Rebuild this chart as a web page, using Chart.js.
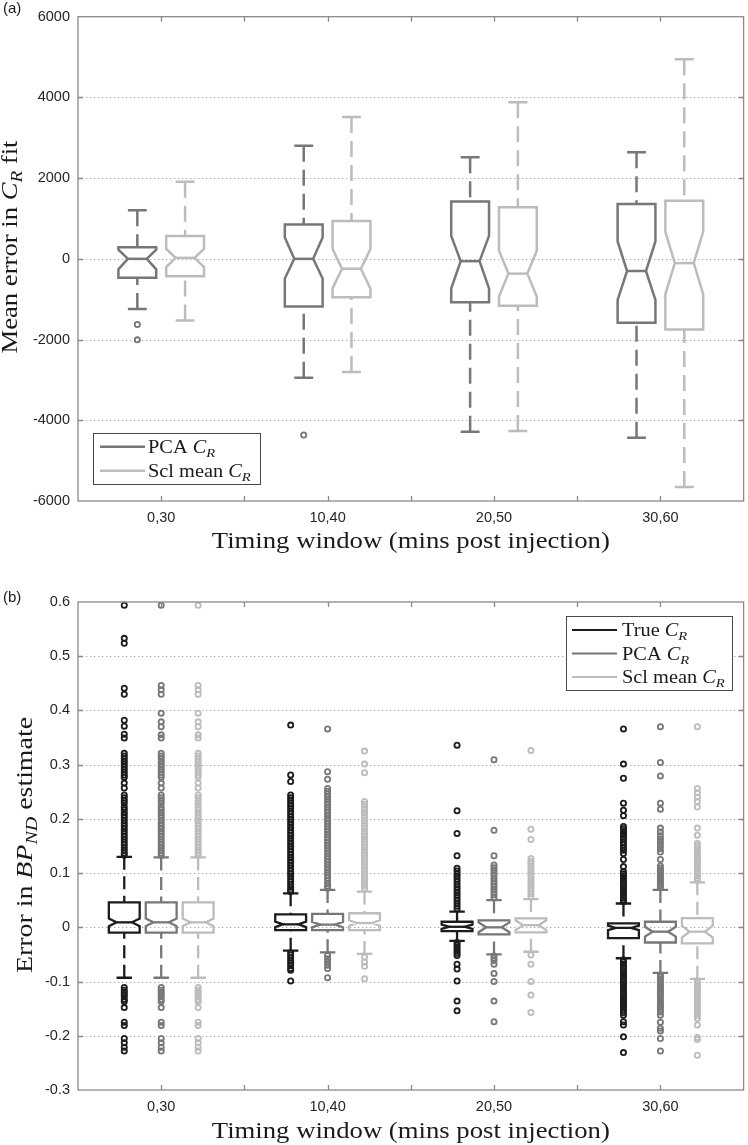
<!DOCTYPE html>
<html><head><meta charset="utf-8">
<script src="https://cdn.jsdelivr.net/npm/chart.js@4/dist/chart.umd.min.js"></script>
<style>
html,body{margin:0;padding:0;background:#fff;width:748px;height:1145px;overflow:hidden}
#ca{position:absolute;left:0;top:0}
#cb{position:absolute;left:0;top:572px}
</style></head>
<body>
<canvas id="ca" width="748" height="572"></canvas>
<canvas id="cb" width="748" height="573"></canvas>
<script>
// ---------- data ----------
const categories = ['0,30', '10,40', '20,50', '30,60'];
const xTickPos = [1, 1.5, 2, 2.5, 3, 3.5, 4];
const yTicksA = [-6000, -4000, -2000, 0, 2000, 4000, 6000];
const yTicksB = [-0.3, -0.2, -0.1, 0, 0.1, 0.2, 0.3, 0.4, 0.5, 0.6];

// Panel (a): PCA C_R
const aPcaLow     = [-1244, -2944, -4285, -4431];
const aPcaQ1      = [-471, -1179, -1073, -1585];
const aPcaNotchLo = [-260, -488, -732, -1017];
const aPcaMed     = [0, 0, -57, -301];
const aPcaNotchHi = [227, 528, 569, 431];
const aPcaQ3      = [285, 854, 1422, 1358];
const aPcaHigh    = [1202, 2805, 2520, 2642];
const aPcaOut     = [[-1627, -2007], [-4366], [], []];
// Panel (a): Scl mean C_R
const aSclLow     = [-1530, -2805, -4268, -5651];
const aSclQ1      = [-432, -951, -1163, -1748];
const aSclNotchLo = [-203, -732, -935, -877];
const aSclMed     = [24, -244, -366, -105];
const aSclNotchHi = [244, 244, 203, 667];
const aSclQ3      = [568, 935, 1276, 1439];
const aSclHigh    = [1910, 3512, 3878, 4944];
const aSclOut     = [[], [], [], []];

// Panel (b): True C_R
const bTrueLow     = [-0.093, -0.043, -0.025, -0.057];
const bTrueQ1      = [-0.0099, -0.005, -0.007, -0.020];
const bTrueNotchLo = [0.002, 0.0005, -0.003, -0.005];
const bTrueMed     = [0.0092, 0.0055, 0.001, -0.001];
const bTrueNotchHi = [0.0164, 0.0105, 0.005, 0.003];
const bTrueQ3      = [0.0461, 0.024, 0.0103, 0.0074];
const bTrueHigh    = [0.130, 0.0627, 0.029, 0.044];
const bTrueOut = [
  [0.594, 0.533, 0.524, 0.441, 0.430, 0.382, 0.371, 0.356, 0.349, 0.321, 0.316, 0.311, 0.306, 0.301, 0.296, 0.291, 0.286, 0.281, 0.277, 0.266, 0.257, 0.244, 0.239, 0.234, 0.229, 0.222, 0.217, 0.212, 0.207, 0.202, 0.197, 0.192, 0.187, 0.182, 0.177, 0.172, 0.167, 0.162, 0.157, 0.152, 0.147, 0.142, 0.137, 0.133,
   -0.111, -0.116, -0.120, -0.124, -0.128, -0.133, -0.137, -0.148, -0.175, -0.181, -0.205, -0.213, -0.221, -0.228],
  [0.373, 0.281, 0.269, 0.244, 0.239, 0.234, 0.229, 0.224, 0.219, 0.214, 0.209, 0.204, 0.199, 0.194, 0.189, 0.184, 0.179, 0.174, 0.169, 0.164, 0.159, 0.154, 0.149, 0.144, 0.139, 0.134, 0.129, 0.124, 0.119, 0.114, 0.109, 0.104, 0.099, 0.094, 0.089, 0.084, 0.079, 0.074, 0.069, 0.066,
   -0.047, -0.051, -0.056, -0.061, -0.066, -0.071, -0.076, -0.079, -0.099],
  [0.336, 0.215, 0.173, 0.132, 0.109, 0.104, 0.099, 0.094, 0.089, 0.084, 0.079, 0.074, 0.069, 0.064, 0.059, 0.054, 0.049, 0.044, 0.039, 0.034,
   -0.028, -0.032, -0.036, -0.040, -0.044, -0.048, -0.052, -0.068, -0.077, -0.099, -0.136, -0.154],
  [0.366, 0.301, 0.275, 0.229, 0.216, 0.206, 0.186, 0.182, 0.178, 0.174, 0.170, 0.166, 0.162, 0.157, 0.152, 0.147, 0.142, 0.136, 0.125, 0.112, 0.103, 0.099, 0.095, 0.091, 0.087, 0.083, 0.079, 0.075, 0.071, 0.067, 0.063, 0.059, 0.055, 0.051, 0.047,
   -0.060, -0.064, -0.068, -0.072, -0.076, -0.080, -0.084, -0.088, -0.092, -0.096, -0.100, -0.104, -0.108, -0.112, -0.116, -0.120, -0.124, -0.128, -0.132, -0.136, -0.140, -0.144, -0.148, -0.152, -0.157, -0.162, -0.174, -0.180, -0.202, -0.231]
];
// Panel (b): PCA C_R
const bPcaLow     = [-0.093, -0.046, -0.050, -0.084];
const bPcaQ1      = [-0.0099, -0.005, -0.013, -0.028];
const bPcaNotchLo = [0.002, 0.0, -0.009, -0.017];
const bPcaMed     = [0.0092, 0.005, 0.0, -0.008];
const bPcaNotchHi = [0.0164, 0.010, 0.009, 0.001];
const bPcaQ3      = [0.0461, 0.025, 0.013, 0.0103];
const bPcaHigh    = [0.129, 0.069, 0.050, 0.069];
const bPcaOut = [
  [0.594, 0.446, 0.438, 0.430, 0.395, 0.379, 0.370, 0.355, 0.349, 0.321, 0.316, 0.311, 0.306, 0.301, 0.296, 0.291, 0.286, 0.281, 0.277, 0.266, 0.257, 0.244, 0.239, 0.234, 0.229, 0.222, 0.217, 0.212, 0.207, 0.202, 0.197, 0.192, 0.187, 0.182, 0.177, 0.172, 0.167, 0.162, 0.157, 0.152, 0.147, 0.142, 0.137, 0.133,
   -0.111, -0.116, -0.120, -0.124, -0.128, -0.133, -0.137, -0.148, -0.175, -0.181, -0.205, -0.213, -0.221, -0.228],
  [0.366, 0.287, 0.273, 0.256, 0.251, 0.246, 0.241, 0.236, 0.231, 0.226, 0.221, 0.216, 0.211, 0.206, 0.201, 0.196, 0.191, 0.186, 0.181, 0.176, 0.171, 0.166, 0.161, 0.156, 0.151, 0.146, 0.141, 0.136, 0.131, 0.126, 0.121, 0.116, 0.111, 0.106, 0.101, 0.096, 0.091, 0.086, 0.081, 0.076, 0.072,
   -0.052, -0.058, -0.064, -0.070, -0.076, -0.093],
  [0.309, 0.179, 0.132, 0.115, 0.110, 0.105, 0.100, 0.095, 0.090, 0.085, 0.080, 0.075, 0.070, 0.065, 0.060, 0.055,
   -0.053, -0.057, -0.061, -0.068, -0.085, -0.100, -0.136, -0.174],
  [0.370, 0.304, 0.279, 0.229, 0.218, 0.183, 0.176, 0.169, 0.163, 0.157, 0.151, 0.145, 0.139, 0.125, 0.113, 0.109, 0.105, 0.101, 0.097, 0.093, 0.089, 0.085, 0.081, 0.077, 0.073,
   -0.088, -0.092, -0.096, -0.100, -0.104, -0.108, -0.112, -0.116, -0.120, -0.124, -0.128, -0.132, -0.136, -0.140, -0.144, -0.148, -0.152, -0.156, -0.162, -0.175, -0.186, -0.191, -0.205, -0.228]
];
// Panel (b): Scl mean C_R
const bSclLow     = [-0.093, -0.049, -0.045, -0.095];
const bSclQ1      = [-0.0099, -0.005, -0.0093, -0.0295];
const bSclNotchLo = [0.002, 0.003, -0.005, -0.019];
const bSclMed     = [0.0092, 0.008, 0.004, -0.008];
const bSclNotchHi = [0.0164, 0.013, 0.013, 0.003];
const bSclQ3      = [0.0461, 0.026, 0.0166, 0.017];
const bSclHigh    = [0.129, 0.066, 0.052, 0.083];
const bSclOut = [
  [0.594, 0.446, 0.438, 0.430, 0.395, 0.379, 0.370, 0.355, 0.349, 0.321, 0.316, 0.311, 0.306, 0.301, 0.296, 0.291, 0.286, 0.281, 0.277, 0.266, 0.257, 0.244, 0.239, 0.234, 0.229, 0.222, 0.217, 0.212, 0.207, 0.202, 0.197, 0.192, 0.187, 0.182, 0.177, 0.172, 0.167, 0.162, 0.157, 0.152, 0.147, 0.142, 0.137, 0.133,
   -0.111, -0.116, -0.120, -0.124, -0.128, -0.133, -0.137, -0.148, -0.175, -0.181, -0.205, -0.213, -0.221, -0.228],
  [0.325, 0.301, 0.285, 0.232, 0.227, 0.222, 0.217, 0.212, 0.207, 0.202, 0.197, 0.192, 0.187, 0.182, 0.177, 0.172, 0.167, 0.162, 0.157, 0.152, 0.147, 0.142, 0.137, 0.132, 0.127, 0.122, 0.117, 0.112, 0.107, 0.102, 0.097, 0.092, 0.087, 0.082, 0.077, 0.072,
   -0.055, -0.064, -0.072, -0.095],
  [0.326, 0.181, 0.162, 0.127, 0.122, 0.117, 0.112, 0.107, 0.102, 0.097, 0.092, 0.087, 0.082, 0.077, 0.072, 0.067, 0.062, 0.057,
   -0.051, -0.068, -0.100, -0.125, -0.157],
  [0.370, 0.256, 0.248, 0.240, 0.232, 0.222, 0.183, 0.170, 0.155, 0.151, 0.147, 0.143, 0.139, 0.135, 0.131, 0.127, 0.123, 0.119, 0.115, 0.111, 0.107, 0.103, 0.099, 0.095, 0.091, 0.087,
   -0.099, -0.103, -0.107, -0.111, -0.115, -0.119, -0.123, -0.127, -0.131, -0.135, -0.139, -0.143, -0.147, -0.151, -0.155, -0.159, -0.163, -0.168, -0.180, -0.203, -0.207, -0.236]
];

// ---------- styling ----------
const C_TRUE = '#1c1c1c', C_PCA = '#777777', C_SCL = '#bcbcbc';
const SANS = '"Liberation Sans", Arial, Helvetica, sans-serif';
const SERIF = '"Liberation Serif", "Times New Roman", serif';
const TXT = '#1a1a1a';

function series(color, offset, low, q1, nlo, med, nhi, q3, high, out) {
  return {color, offset, low, q1, nlo, med, nhi, q3, high, out};
}

function fontFor(p, size) {
  return (p.it ? 'italic ' : '') + (p.sub ? size * 0.72 : size).toFixed(2) + 'px ' + SERIF;
}
function richWidth(ctx, parts, size) {
  let w = 0;
  for (const p of parts) { ctx.font = fontFor(p, size); w += ctx.measureText(p.t).width; }
  return w;
}
function drawRich(ctx, parts, x, y, size, align, sx, target) {
  const nat = richWidth(ctx, parts, size);
  if (target) sx = target / nat;
  const w = nat * sx;
  const x0 = align === 'center' ? x - w / 2 : x;
  ctx.save();
  ctx.translate(x0, y);
  ctx.scale(sx, 1);
  ctx.fillStyle = TXT;
  ctx.textAlign = 'left';
  ctx.textBaseline = 'alphabetic';
  let px = 0;
  for (const p of parts) {
    ctx.font = fontFor(p, size);
    ctx.fillText(p.t, px, p.sub ? size * 0.22 : 0);
    px += ctx.measureText(p.t).width;
  }
  ctx.restore();
}

function makePlugin(cfg) {
  return {
    id: 'boxplotDraw',
    beforeDatasetsDraw(chart) {
      const ctx = chart.ctx, a = chart.chartArea, x = chart.scales.x, y = chart.scales.y;
      ctx.save();
      ctx.strokeStyle = '#a8a8a8';
      ctx.lineWidth = 1;
      ctx.setLineDash([1.3, 2.7]);
      for (const t of y.ticks) {
        if (t.value === cfg.yTicks[0] || t.value === cfg.yTicks[cfg.yTicks.length - 1]) continue;
        const py = Math.round(y.getPixelForValue(t.value)) + 0.5;
        ctx.beginPath(); ctx.moveTo(a.left, py); ctx.lineTo(a.right, py); ctx.stroke();
      }
      ctx.setLineDash([]);
      const hw = x.getPixelForValue(1 + cfg.halfW) - x.getPixelForValue(1);
      const cw = hw * 0.5;
      const nf = 0.5;
      for (const s of cfg.series) {
        ctx.strokeStyle = s.color;
        ctx.lineWidth = cfg.lw;
        ctx.lineJoin = 'miter';
        ctx.lineCap = 'butt';
        for (let i = 0; i < categories.length; i++) {
          const cx = x.getPixelForValue(i + 1 + s.offset);
          const P = v => y.getPixelForValue(v);
          const yLow = P(s.low[i]), yQ1 = P(s.q1[i]), yN1 = P(s.nlo[i]), yMed = P(s.med[i]),
                yN2 = P(s.nhi[i]), yQ3 = P(s.q3[i]), yHigh = P(s.high[i]);
          ctx.setLineDash(cfg.dash);
          ctx.beginPath(); ctx.moveTo(cx, yHigh); ctx.lineTo(cx, yQ3); ctx.stroke();
          ctx.beginPath(); ctx.moveTo(cx, yLow); ctx.lineTo(cx, yQ1); ctx.stroke();
          ctx.setLineDash([]);
          ctx.beginPath();
          ctx.moveTo(cx - cw, yHigh); ctx.lineTo(cx + cw, yHigh);
          ctx.moveTo(cx - cw, yLow); ctx.lineTo(cx + cw, yLow);
          ctx.stroke();
          ctx.beginPath();
          ctx.moveTo(cx - hw, yQ3);
          ctx.lineTo(cx + hw, yQ3);
          ctx.lineTo(cx + hw, yN2);
          ctx.lineTo(cx + hw * nf, yMed);
          ctx.lineTo(cx + hw, yN1);
          ctx.lineTo(cx + hw, yQ1);
          ctx.lineTo(cx - hw, yQ1);
          ctx.lineTo(cx - hw, yN1);
          ctx.lineTo(cx - hw * nf, yMed);
          ctx.lineTo(cx - hw, yN2);
          ctx.closePath();
          ctx.stroke();
          ctx.beginPath(); ctx.moveTo(cx - hw * nf, yMed); ctx.lineTo(cx + hw * nf, yMed); ctx.stroke();
        }
      }
      ctx.restore();
    },
    afterDatasetsDraw(chart) {
      const ctx = chart.ctx, a = chart.chartArea, x = chart.scales.x, y = chart.scales.y;
      ctx.save();
      ctx.strokeStyle = '#8a8a8a';
      ctx.lineWidth = 1.3;
      ctx.strokeRect(a.left, a.top, a.right - a.left, a.bottom - a.top);
      ctx.beginPath();
      const tl = 5;
      for (const t of x.ticks) {
        const px = Math.round(x.getPixelForValue(t.value)) + 0.5;
        ctx.moveTo(px, a.top); ctx.lineTo(px, a.top + tl);
        ctx.moveTo(px, a.bottom); ctx.lineTo(px, a.bottom - tl);
      }
      for (const t of y.ticks) {
        if (t.value === cfg.yTicks[0] || t.value === cfg.yTicks[cfg.yTicks.length - 1]) continue;
        const py = Math.round(y.getPixelForValue(t.value)) + 0.5;
        ctx.moveTo(a.left, py); ctx.lineTo(a.left + tl, py);
        ctx.moveTo(a.right, py); ctx.lineTo(a.right - tl, py);
      }
      ctx.stroke();
      ctx.restore();
    },
    afterDraw(chart) {
      const ctx = chart.ctx, a = chart.chartArea;
      ctx.save();
      ctx.fillStyle = TXT;
      ctx.font = '15px ' + SANS;
      ctx.textAlign = 'left';
      ctx.textBaseline = 'middle';
      ctx.fillText(cfg.panel, 3, cfg.panelY);
      drawRich(ctx, [{t: 'Timing window (mins post injection)'}], (a.left + a.right) / 2, cfg.xTitleY, 24, 'center', 1, 398);
      ctx.save();
      ctx.translate(cfg.yTitleX, cfg.yTitleCY);
      ctx.rotate(-Math.PI / 2);
      drawRich(ctx, cfg.yTitle, 0, 0, 24, 'center', 1, cfg.yTitleW);
      ctx.restore();
      const L = cfg.legend;
      ctx.fillStyle = '#ffffff';
      ctx.fillRect(L.x0, L.y0, L.x1 - L.x0, L.y1 - L.y0);
      ctx.strokeStyle = '#4a4a4a';
      ctx.lineWidth = 1;
      ctx.strokeRect(L.x0 + 0.5, L.y0 + 0.5, L.x1 - L.x0, L.y1 - L.y0);
      L.items.forEach((it, k) => {
        const ry = L.rows[k];
        ctx.strokeStyle = it.color;
        ctx.lineWidth = L.lw;
        ctx.beginPath(); ctx.moveTo(L.lx0, ry); ctx.lineTo(L.lx1, ry); ctx.stroke();
        drawRich(ctx, it.parts, L.tx, ry + 6, 18.5, 'left', 1.1);
      });
      ctx.restore();
    }
  };
}

function buildDatasets(seriesList) {
  return seriesList.map(s => ({
    data: s.out.flatMap((vals, i) => vals.map(v => ({x: i + 1 + s.offset, y: v}))),
    pointStyle: 'circle',
    pointRadius: 2.6,
    pointBorderWidth: 1.8,
    pointBackgroundColor: 'rgba(0,0,0,0)',
    pointBorderColor: s.color,
    pointHoverRadius: 2.6,
    showLine: false,
    clip: false
  }));
}

function makeChart(canvasId, cfg) {
  return new Chart(document.getElementById(canvasId), {
    type: 'scatter',
    data: {datasets: buildDatasets(cfg.series)},
    options: {
      responsive: false,
      animation: false,
      events: [],
      layout: {padding: {left: 0, right: 1, top: cfg.padTop, bottom: 0}},
      plugins: {legend: {display: false}, tooltip: {enabled: false}, title: {display: false}},
      scales: {
        x: {
          type: 'linear', min: 0.5, max: 4.5,
          afterBuildTicks: s => { s.ticks = xTickPos.map(v => ({value: v})); },
          afterFit: s => { s.height = cfg.xAxisH; },
          grid: {display: false, drawTicks: false},
          border: {display: false},
          ticks: {
            autoSkip: false, maxRotation: 0, padding: 8, color: '#262626',
            font: {family: SANS, size: 14.5},
            callback: v => Number.isInteger(v) ? categories[v - 1] : ''
          }
        },
        y: {
          type: 'linear', min: cfg.yTicks[0], max: cfg.yTicks[cfg.yTicks.length - 1],
          afterBuildTicks: s => { s.ticks = cfg.yTicks.map(v => ({value: v})); },
          afterFit: s => { s.width = 78; },
          grid: {display: false, drawTicks: false},
          border: {display: false},
          ticks: {
            padding: 8, color: '#262626',
            font: {family: SANS, size: 14.5},
            callback: v => String(v)
          }
        }
      }
    },
    plugins: [makePlugin(cfg)]
  });
}

makeChart('ca', {
  yTicks: yTicksA,
  padTop: 10, xAxisH: 71,
  halfW: 0.1136, lw: 2.5, dash: [16, 8],
  series: [
    series(C_PCA, -0.1435, aPcaLow, aPcaQ1, aPcaNotchLo, aPcaMed, aPcaNotchHi, aPcaQ3, aPcaHigh, aPcaOut),
    series(C_SCL, 0.1435, aSclLow, aSclQ1, aSclNotchLo, aSclMed, aSclNotchHi, aSclQ3, aSclHigh, aSclOut)
  ],
  panel: '(a)', panelY: 8.5,
  xTitleY: 548,
  yTitle: [{t: 'Mean error in '}, {t: 'C', it: 1}, {t: 'R', it: 1, sub: 1}, {t: ' fit'}],
  yTitleX: 17, yTitleCY: 247, yTitleW: 213,
  legend: {
    x0: 93, y0: 433, x1: 260, y1: 484, lw: 2.5,
    rows: [446.7, 470.7], lx0: 100, lx1: 145, tx: 148,
    items: [
      {color: C_PCA, parts: [{t: 'PCA '}, {t: 'C', it: 1}, {t: 'R', it: 1, sub: 1}]},
      {color: C_SCL, parts: [{t: 'Scl mean '}, {t: 'C', it: 1}, {t: 'R', it: 1, sub: 1}]}
    ]
  }
});

makeChart('cb', {
  yTicks: yTicksB,
  padTop: 30, xAxisH: 55,
  halfW: 0.0927, lw: 2.3, dash: [13, 6.5],
  series: [
    series(C_TRUE, -0.222, bTrueLow, bTrueQ1, bTrueNotchLo, bTrueMed, bTrueNotchHi, bTrueQ3, bTrueHigh, bTrueOut),
    series(C_PCA, 0, bPcaLow, bPcaQ1, bPcaNotchLo, bPcaMed, bPcaNotchHi, bPcaQ3, bPcaHigh, bPcaOut),
    series(C_SCL, 0.222, bSclLow, bSclQ1, bSclNotchLo, bSclMed, bSclNotchHi, bSclQ3, bSclHigh, bSclOut)
  ],
  panel: '(b)', panelY: 25.5,
  xTitleY: 566,
  yTitle: [{t: 'Error in '}, {t: 'BP', it: 1}, {t: 'ND', it: 1, sub: 1}, {t: ' estimate'}],
  yTitleX: 32, yTitleCY: 273, yTitleW: 256,
  legend: {
    x0: 566, y0: 44, x1: 732, y1: 118, lw: 2,
    rows: [58, 81.5, 105], lx0: 572, lx1: 617, tx: 622,
    items: [
      {color: C_TRUE, parts: [{t: 'True '}, {t: 'C', it: 1}, {t: 'R', it: 1, sub: 1}]},
      {color: C_PCA, parts: [{t: 'PCA '}, {t: 'C', it: 1}, {t: 'R', it: 1, sub: 1}]},
      {color: C_SCL, parts: [{t: 'Scl mean '}, {t: 'C', it: 1}, {t: 'R', it: 1, sub: 1}]}
    ]
  }
});
</script>
</body></html>
